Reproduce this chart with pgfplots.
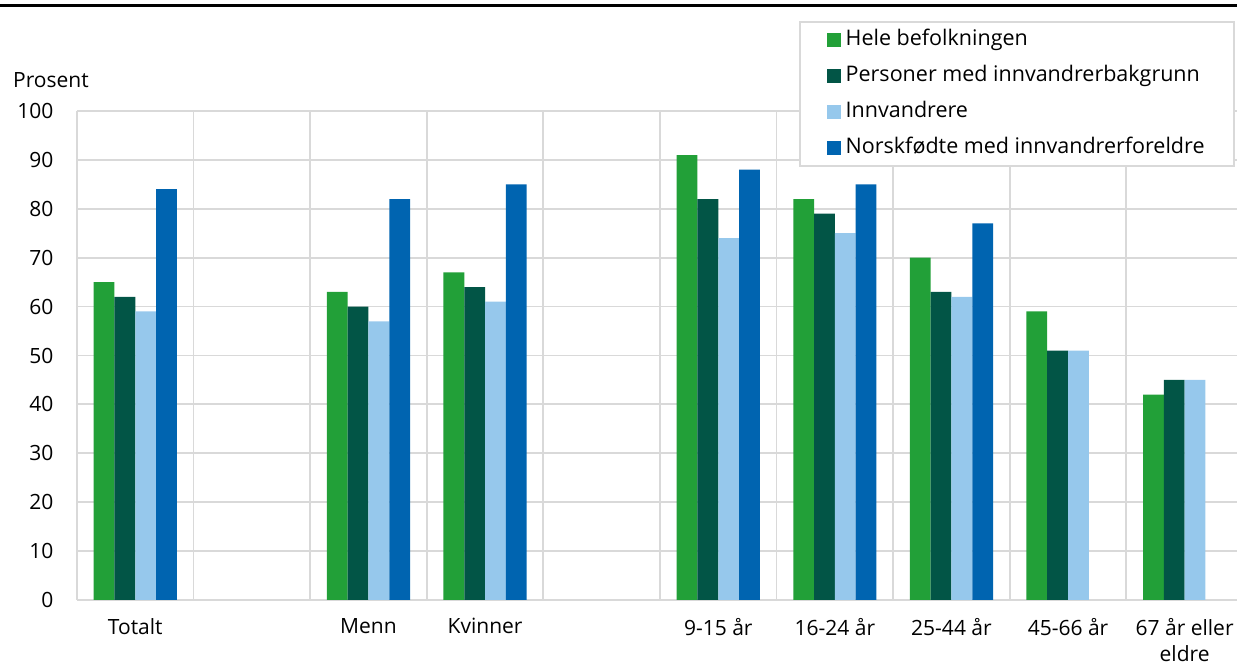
\documentclass[border=0pt]{standalone}
\usepackage{fontspec}
\setmainfont{Open Sans}
\usepackage{pgfplots}
\pgfplotsset{compat=1.18}
\definecolor{cA}{RGB}{34,160,56}
\definecolor{cB}{RGB}{2,85,70}
\definecolor{cC}{RGB}{150,200,236}
\definecolor{cD}{RGB}{0,100,176}
\definecolor{gridc}{RGB}{217,217,217}
\begin{document}
\begin{tikzpicture}[x=1pt,y=1pt]
\useasboundingbox (0,0) rectangle (1237,669);
\draw[line width=3.5pt] (0,663.5) -- (1237,663.5);
\node[anchor=west,inner sep=0pt,font=\fontsize{21}{25}\selectfont] at (13,589) {Prosent};
\begin{axis}[
  at={(77pt,69pt)}, anchor=south west,
  scale only axis, width=1166pt, height=489pt,
  ymin=0, ymax=100, xmin=-0.5, xmax=9.5,
  ybar=0pt, bar width=20.8pt,
  every axis plot post/.append style={legend image code/.code={\fill[##1] (0pt,-7pt) rectangle (14pt,7pt); \path (17pt,0pt);}},
  ytick={0,10,...,100},
  xtick={0,...,9},
  xticklabels={Totalt,,Menn,Kvinner,,9-15 år,16-24 år,25-44 år,45-66 år,{67 år eller\\eldre}},
  minor xtick={-0.5,0.5,...,9.5},
  xminorgrids=true, ymajorgrids=true, xmajorgrids=false,
  grid style={draw=gridc, line width=1.8pt},
  minor grid style={draw=gridc, line width=1.8pt},
  major tick length=0pt, minor tick length=0pt,
  axis line style={draw=none},
  /pgf/number format/assume math mode=true,
  tick label style={font=\fontsize{21}{26}\selectfont},
  xticklabel style={align=center, yshift=-17pt, inner ysep=1pt},
  yticklabel style={xshift=-20pt},
  legend style={at={(0.619,1.184)}, anchor=north west, draw=gridc, line width=2pt, fill=white,
    font=\fontsize{21.5}{25}\selectfont, inner xsep=27pt, inner ysep=8pt, row sep=16pt,
    nodes={text height=15pt, text depth=5pt, inner ysep=0pt}},
  legend cell align=left,
]
\addplot[fill=cA, draw=none] coordinates {(0,65) (2,63) (3,67) (5,91) (6,82) (7,70) (8,59) (9,42)};
\addplot[fill=cB, draw=none] coordinates {(0,62) (2,60) (3,64) (5,82) (6,79) (7,63) (8,51) (9,45)};
\addplot[fill=cC, draw=none] coordinates {(0,59) (2,57) (3,61) (5,74) (6,75) (7,62) (8,51) (9,45)};
\addplot[fill=cD, draw=none] coordinates {(0,84) (2,82) (3,85) (5,88) (6,85) (7,77)};
\legend{Hele befolkningen,Personer med innvandrerbakgrunn,Innvandrere,Norskfødte med innvandrerforeldre}
\end{axis}
\end{tikzpicture}
\end{document}
